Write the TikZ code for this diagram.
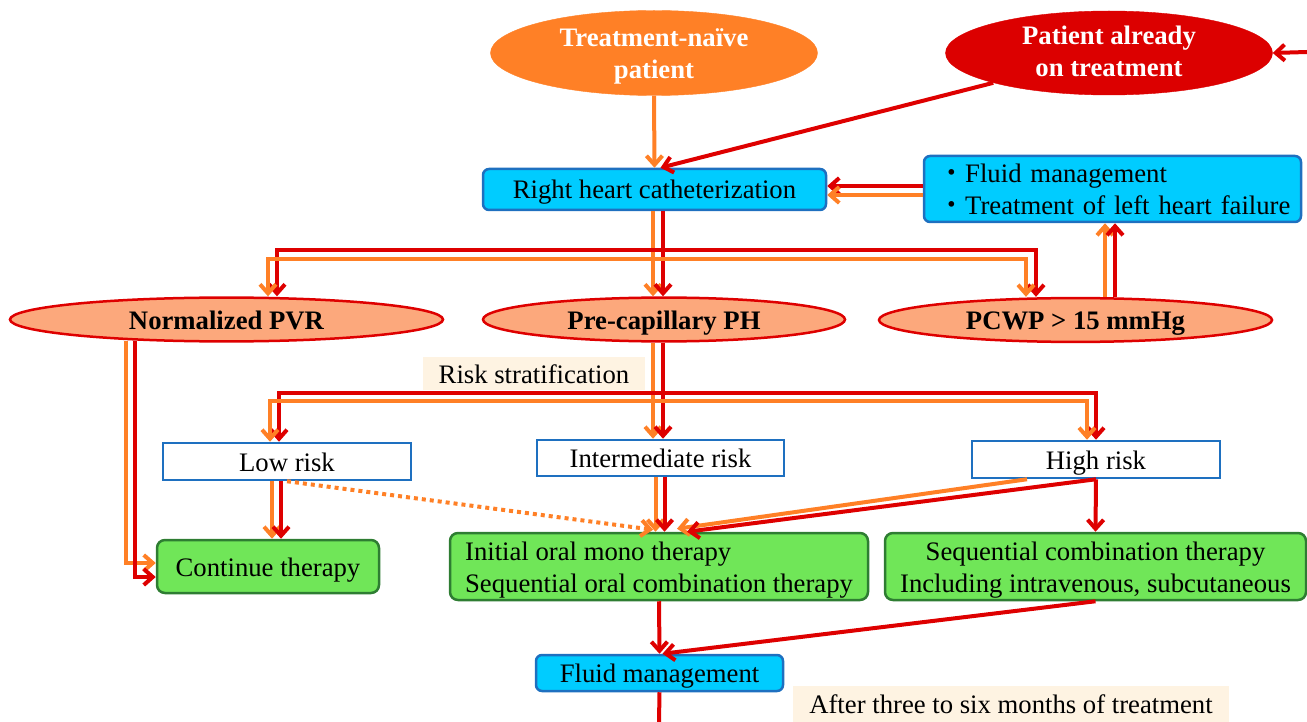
\documentclass[tikz,border=0pt]{standalone}
\usepackage{fontspec}
\setmainfont{Liberation Serif}
\newfontfamily\cjk{Noto Sans CJK JP}
\usetikzlibrary{shapes.geometric,arrows.meta,calc}
\definecolor{corange}{RGB}{255,128,38}
\definecolor{cred}{RGB}{222,0,0}
\definecolor{credfill}{RGB}{220,0,0}
\definecolor{csalmon}{RGB}{252,168,124}
\definecolor{ccyan}{RGB}{0,204,255}
\definecolor{cblue}{RGB}{30,112,192}
\definecolor{cgreen}{RGB}{112,230,88}
\definecolor{cgreenb}{RGB}{46,125,50}
\definecolor{ccream}{RGB}{254,243,226}
\newcommand\slinestrut{\rule[-6pt]{0pt}{31pt}}
\tikzset{
  base/.style={font=\fontsize{26.7}{32}\selectfont, inner sep=0pt, text=black},
  oneline/.style={execute at begin node=\slinestrut},
  twoline/.style={text height=#1, text depth=0pt},
  oval/.style={base, ellipse, font=\bfseries\fontsize{26.7}{32}\selectfont, align=center},
  midoval/.style={oval, oneline, fill=csalmon, draw=cred, line width=2.5pt, minimum height=37pt},
  cyanbox/.style={base, rectangle, rounded corners=6pt, fill=ccyan, draw=cblue, line width=2.5pt},
  riskbox/.style={base, oneline, rectangle, fill=white, draw=cblue, line width=2.5pt},
  greenbox/.style={base, rectangle, rounded corners=8pt, fill=cgreen, draw=cgreenb, line width=2.5pt},
  notebox/.style={base, oneline, rectangle, fill=ccream},
  tip/.style={-{Straight Barb[length=9pt,width=16pt]}},
  oarr/.style={tip, draw=corange, line width=4pt, line join=miter},
  rarr/.style={tip, draw=cred, line width=4pt, line join=miter},
  rline/.style={draw=cred, line width=4pt},
  odots/.style={tip, draw=corange, line width=4pt, dash pattern=on 4pt off 4pt}
}
\begin{document}
\begin{tikzpicture}[x=1pt,y=-1pt]
\useasboundingbox (0,0) rectangle (1307,722);
% nodes
\node[oval, twoline=52pt, fill=corange, draw=corange, text=white, minimum width=327pt, minimum height=85pt] (naive) at (654,53) {Treatment-naïve\\patient};
\node[oval, twoline=48pt, fill=credfill, draw=credfill, text=white, minimum width=327pt, minimum height=84pt] (already) at (1109,53) {Patient already\\on treatment};
\node[cyanbox, oneline, minimum width=343pt, minimum height=41pt] (rhc) at (654.5,189.5) {Right heart catheterization};
\node[cyanbox, minimum width=377pt, minimum height=66pt, text width=362pt, align=left] (lhf) at (1112.5,189) {\hspace*{7pt}{\cjk ・}Fluid management\\\hspace*{7pt}{\cjk ・}Treatment of left heart failure};
\node[midoval, minimum width=433pt] (pvr) at (226.5,319.5) {Normalized PVR};
\node[midoval, minimum width=362pt] (pre) at (664,319.5) {Pre-capillary PH};
\node[midoval, minimum width=393pt] (pcwp) at (1075.5,320) {PCWP > 15 mmHg};
\node[notebox, minimum width=222pt, minimum height=33pt] (strat) at (534,373.5) {Risk stratification};
\node[riskbox, minimum width=248pt, minimum height=37pt] (low) at (287,461.5) {Low risk};
\node[riskbox, minimum width=247pt, minimum height=36pt] (inter) at (660.5,458) {Intermediate risk};
\node[riskbox, minimum width=248pt, minimum height=37pt] (high) at (1096,459.5) {High risk};
\node[greenbox, oneline, minimum width=222pt, minimum height=53pt] (cont) at (268,566.5) {Continue therapy};
\node[greenbox, twoline=51pt, minimum width=418pt, minimum height=67pt, align=left] (init) at (659,566.5) {Initial oral mono therapy\\Sequential oral combination therapy};
\node[greenbox, twoline=51pt, minimum width=421pt, minimum height=67pt, align=center] (seqc) at (1095.5,566.5) {Sequential combination therapy\\Including intravenous, subcutaneous};
\node[cyanbox, oneline, minimum width=247pt, minimum height=36pt] (fluid) at (659.5,673) {Fluid management};
\node[notebox, minimum width=436pt, minimum height=36pt] (after) at (1011,704) {After three to six months of treatment};
% free-end coordinates
\coordinate (edge) at (1307,52);
\coordinate (bottom) at (659,722);
\coordinate (rs1) at (663,250);
\coordinate (os1) at (653,259);
\coordinate (rs2) at (663,393);
\coordinate (os2) at (653,401);
% connectors
\draw[rarr] (edge) -- (already.east);
\draw[oarr] (naive.south) -- (rhc.north);
\draw[rarr] (already.south west) -- ([xshift=6pt]rhc.north);
\draw[rarr] ([yshift=3pt]lhf.west) -- ([yshift=3pt]lhf.west -| rhc.east);
\draw[oarr] ([yshift=-6pt]lhf.west) -- ([yshift=-6pt]lhf.west -| rhc.east);
\draw[oarr] ([xshift=-1.5pt]rhc.south) -- ([xshift=-1.5pt]rhc.south |- pre.north);
\draw[rarr] ([xshift=8.5pt]rhc.south) -- ([xshift=8.5pt]rhc.south |- pre.north);
\draw[rarr] (rs1) -| ([xshift=50.5pt]pvr.north);
\draw[oarr] (os1) -| ([xshift=41.5pt]pvr.north);
\draw[rarr] (rs1) -| ([xshift=-39.5pt]pcwp.north);
\draw[oarr] (os1) -| ([xshift=-49.5pt]pcwp.north);
\draw[oarr] ([xshift=29.5pt]pcwp.north) -- ([xshift=29.5pt]pcwp.north |- lhf.south);
\draw[rarr] ([xshift=39.5pt]pcwp.north) -- ([xshift=39.5pt]pcwp.north |- lhf.south);
\draw[oarr] ([xshift=-100.5pt,yshift=2pt]pvr.south) |- ([yshift=3.5pt]cont.west);
\draw[rarr] ([xshift=-91.5pt,yshift=2pt]pvr.south) |- ([yshift=-10.5pt]cont.west);
\draw[oarr] ([xshift=-11pt]pre.south) -- ([xshift=-11pt]pre.south |- inter.north);
\draw[rarr] ([xshift=-1pt]pre.south) -- ([xshift=-1pt]pre.south |- inter.north);
\draw[rarr] (rs2) -| ([xshift=-8pt]low.north);
\draw[oarr] (os2) -| ([xshift=-17pt]low.north);
\draw[rarr] (rs2) -| (high.north);
\draw[oarr] (os2) -| ([xshift=-9pt]high.north);
\draw[oarr] ([xshift=-15pt]low.south) -- ([xshift=-15pt]low.south |- cont.north);
\draw[rarr] ([xshift=-6pt]low.south) -- ([xshift=-6pt]low.south |- cont.north);
\draw[odots] (low.south) -- ([xshift=-6pt,yshift=2pt]init.north);
\draw[oarr] ([xshift=-5pt]inter.south) -- ([xshift=-5pt]inter.south |- init.north);
\draw[rarr] ([xshift=4pt]inter.south) -- ([xshift=4pt]inter.south |- init.north);
\draw[oarr] ([xshift=-69pt]high.south) -- ([xshift=18pt,yshift=3pt]init.north);
\draw[rarr] (high.south) -- ([xshift=28pt]init.north);
\draw[rarr] (high.south) -- (seqc.north);
\draw[rarr] (init.south) -- (fluid.north);
\draw[rarr] (seqc.south) -- ([xshift=3pt]fluid.north);
\draw[rline] (fluid.south) -- (bottom);
\end{tikzpicture}
\end{document}
